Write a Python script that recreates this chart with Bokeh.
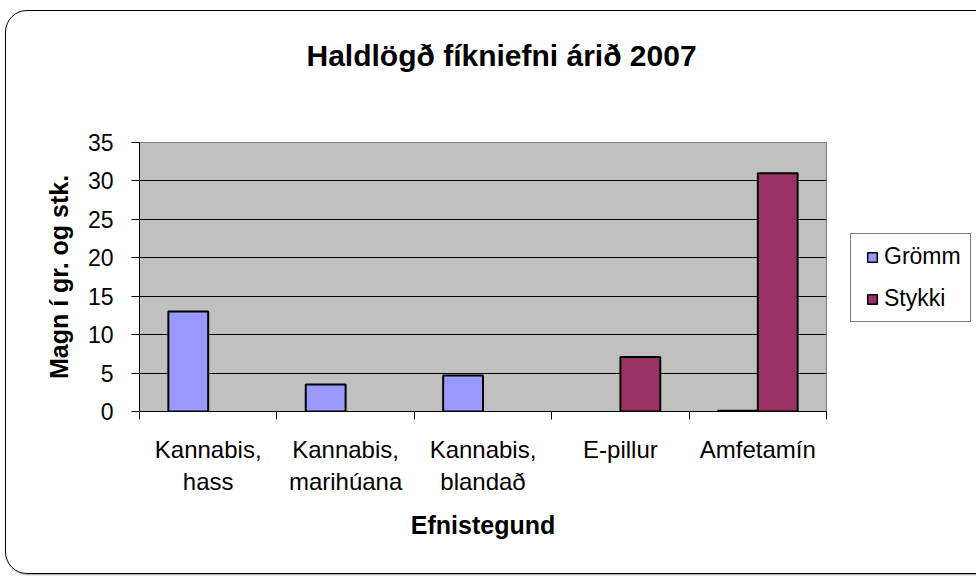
from bokeh.plotting import figure
from bokeh.models import FixedTicker, ColumnDataSource, Legend, LegendItem, Range1d, Title
from bokeh.embed import file_html
from bokeh.resources import INLINE

# ---- data ----
categories = ["Kannabis,\nhass", "Kannabis,\nmarihúana", "Kannabis,\nblandað", "E-pillur", "Amfetamín"]
gromm = [13, 3.5, 4.7, float("nan"), 0.1]
stykki = [float("nan"), float("nan"), float("nan"), 7.1, 31]
series_names = ["Grömm", "Stykki"]
series_colors = ["#9999FF", "#993366"]
y_ticks = [0, 5, 10, 15, 20, 25, 30, 35]
title_text = "Haldlögð fíkniefni árið 2007"
x_title = "Efnistegund"
y_title = "Magn í gr. og stk."

FONT = "Liberation Sans"
OX, OY = 6, 11                 # canvas origin on the page (margin + border)
frame_left, frame_right = 139 - OX, 826 - OX
frame_top, frame_bottom = 142 - OY, 411 - OY
W, H = 968, 562

n = len(categories)
centers = [i + 0.5 for i in range(n)]
bw = 0.29

p = figure(frame_width=frame_right - frame_left, frame_height=frame_bottom - frame_top,
           output_backend="svg", toolbar_location=None, title=None,
           x_range=Range1d(0, n), y_range=Range1d(0, 35),
           min_border_left=frame_left, min_border_right=W - frame_right,
           min_border_top=frame_top, min_border_bottom=H - frame_bottom)
p.styles = {"margin-left": "5px", "margin-top": "10px", "border": "1px solid #000",
            "border-radius": "22px", "box-shadow": "1px 1px 2px #999"}
p.background_fill_color = "#C0C0C0"
p.border_fill_color = None
p.outline_line_color = "#808080"
p.outline_line_width = 1

# title: an empty spacer next to the frame, then the real title further out
p.add_layout(Title(text=" ", text_font=FONT, text_font_size="30px", standoff=31), "above")
p.add_layout(Title(text=title_text, text_font=FONT, text_font_style="bold",
                   text_font_size="30px", text_color="black", align="left",
                   offset=167, standoff=10), "above")

src = ColumnDataSource(dict(xg=[c - bw / 2 for c in centers], xs=[c + bw / 2 for c in centers],
                            g=gromm, s=stykki))
rg = p.vbar(x="xg", top="g", bottom=0, width=bw, source=src, fill_color=series_colors[0],
            line_color="black", line_width=2)
rs = p.vbar(x="xs", top="s", bottom=0, width=bw, source=src, fill_color=series_colors[1],
            line_color="black", line_width=2)
# legend swatches (square markers, no data drawn)
lg = p.scatter(x=[float("nan")], y=[float("nan")], marker="square", fill_color=series_colors[0],
               line_color="black", line_width=1.5)
ls = p.scatter(x=[float("nan")], y=[float("nan")], marker="square", fill_color=series_colors[1],
               line_color="black", line_width=1.5)

# grid
p.xgrid.visible = False
p.ygrid.grid_line_color = "black"
p.ygrid.grid_line_width = 1
p.ygrid.ticker = FixedTicker(ticks=y_ticks)

# y axis
ya = p.yaxis[0]
ya.ticker = FixedTicker(ticks=y_ticks)
ya.axis_line_color = "black"
ya.major_tick_line_color = "black"
ya.major_tick_out = 8
ya.major_tick_in = 0
ya.minor_tick_line_color = None
ya.major_label_text_font = FONT
ya.major_label_text_font_size = "23px"
ya.major_label_text_color = "black"
ya.major_label_standoff = 18
ya.axis_label = y_title
ya.axis_label_text_font = FONT
ya.axis_label_text_font_style = "bold"
ya.axis_label_text_font_size = "25px"
ya.axis_label_text_color = "black"
ya.axis_label_standoff = 12

# x axis
xa = p.xaxis[0]
xa.ticker = FixedTicker(ticks=centers, minor_ticks=list(range(n + 1)))
xa.major_label_overrides = {c: lab for c, lab in zip(centers, categories)}
xa.axis_line_color = "black"
xa.major_tick_line_color = None
xa.major_tick_out = 0
xa.major_tick_in = 0
xa.minor_tick_line_color = "black"
xa.minor_tick_out = 8
xa.minor_tick_in = 0
xa.major_label_text_font = FONT
xa.major_label_text_font_size = "24px"
xa.major_label_text_color = "black"
xa.major_label_standoff = 16
xa.axis_label = x_title
xa.axis_label_text_font = FONT
xa.axis_label_text_font_style = "bold"
xa.axis_label_text_font_size = "25px"
xa.axis_label_text_color = "black"
xa.axis_label_standoff = 13

# legend
legend = Legend(items=[LegendItem(label=series_names[0], renderers=[lg]),
                       LegendItem(label=series_names[1], renderers=[ls])],
                location=(24, 89), orientation="vertical",
                glyph_width=24, glyph_height=24, label_standoff=0,
                label_text_font=FONT, label_text_font_size="23px", label_text_color="black",
                padding=9, spacing=15, margin=0,
                border_line_color="black", border_line_width=1,
                background_fill_color="white", background_fill_alpha=1)
p.add_layout(legend, "right")

open("out.html", "w").write(file_html(p, INLINE))
